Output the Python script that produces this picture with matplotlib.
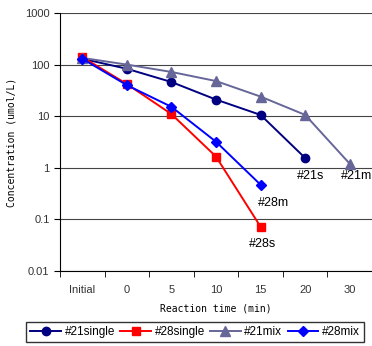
import matplotlib
matplotlib.use("Agg")
import matplotlib.pyplot as plt
from matplotlib.ticker import FixedLocator, NullFormatter

# categorie asse x
categories = ["Initial", "0", "5", "10", "15", "20", "30"]

# concentrazioni (umol/L)
s21_single = [130, 83, 46, 21, 10.6, 1.55]
s28_single = [140, 42, 11, 1.65, 0.072]
s21_mix = [135, 100, 72, 48, 24, 10.6, 1.2]
s28_mix = [130, 40, 15.2, 3.2, 0.47]

end_labels = ["#21s", "#28s", "#21m", "#28m"]

plt.rcParams['font.family'] = ['Liberation Sans', 'DejaVu Sans']

fig = plt.figure(figsize=(3.72, 3.46), dpi=100)
ax = fig.add_axes([60/372, 1-271/346, 312/372, 258/346])

x = list(range(len(categories)))
ms = 6
l1, = ax.plot(x[:len(s21_single)], s21_single, color="#000080", marker="o", ms=ms, lw=1.4)
l2, = ax.plot(x[:len(s28_single)], s28_single, color="#FF0000", marker="s", ms=ms, lw=1.4)
l3, = ax.plot(x[:len(s21_mix)], s21_mix, color="#666699", marker="^", ms=ms+1, lw=1.4)
l4, = ax.plot(x[:len(s28_mix)], s28_mix, color="#0000FF", marker="D", ms=ms-1, lw=1.4)

# etichette finali sotto l'ultimo punto (offset in punti)
series = [s21_single, s28_single, s21_mix, s28_mix]
offsets = [(4.3, -13), (1.4, -12.2), (5, -8.6), (9.4, -13)]
for lab, s, off in zip(end_labels, series, offsets):
    ax.annotate(lab, (len(s)-1, s[-1]), xytext=off, textcoords="offset points",
                ha="center", va="center", fontsize=9)

ax.set_yscale("log")
ax.set_ylim(0.01, 1000)
ax.set_xlim(-0.5, len(categories)-0.5)
ax.yaxis.set_major_locator(FixedLocator([0.01, 0.1, 1, 10, 100, 1000]))
ax.set_yticklabels(["0.01", "0.1", "1", "10", "100", "1000"])
ax.yaxis.set_minor_formatter(NullFormatter())
ax.yaxis.set_minor_locator(FixedLocator([]))
ax.grid(axis="y", color="#444444", lw=0.8)

ax.set_xticks(x)
ax.set_xticklabels(categories)
ax.xaxis.set_minor_locator(FixedLocator([i-0.5 for i in range(len(categories)+1)]))
ax.tick_params(axis="x", which="major", length=0, pad=10, labelsize=8, colors="#333333")
ax.tick_params(axis="x", which="minor", length=4, direction="out")
ax.tick_params(axis="y", length=4, labelsize=8, colors="#333333")
ax.tick_params(axis="both", which="both", color="black")

for sp in ["top", "right"]:
    ax.spines[sp].set_visible(False)

ax.set_xlabel("Reaction time (min)", family="DejaVu Sans Mono", fontsize=7, labelpad=6)
ax.set_ylabel("Concentration (umol/L)", family="DejaVu Sans Mono", fontsize=7, labelpad=6)

leg = fig.legend([l1, l2, l3, l4], ["#21single", "#28single", "#21mix", "#28mix"],
                 loc="center", bbox_to_anchor=(195/372, 1-332/346), ncol=4,
                 fontsize=8.5, frameon=True, fancybox=False, edgecolor="black",
                 handlelength=2.6, handletextpad=0.3, columnspacing=0.45, borderpad=0.35)
leg.get_frame().set_linewidth(1.0)

fig.savefig("out.png", dpi=100)
